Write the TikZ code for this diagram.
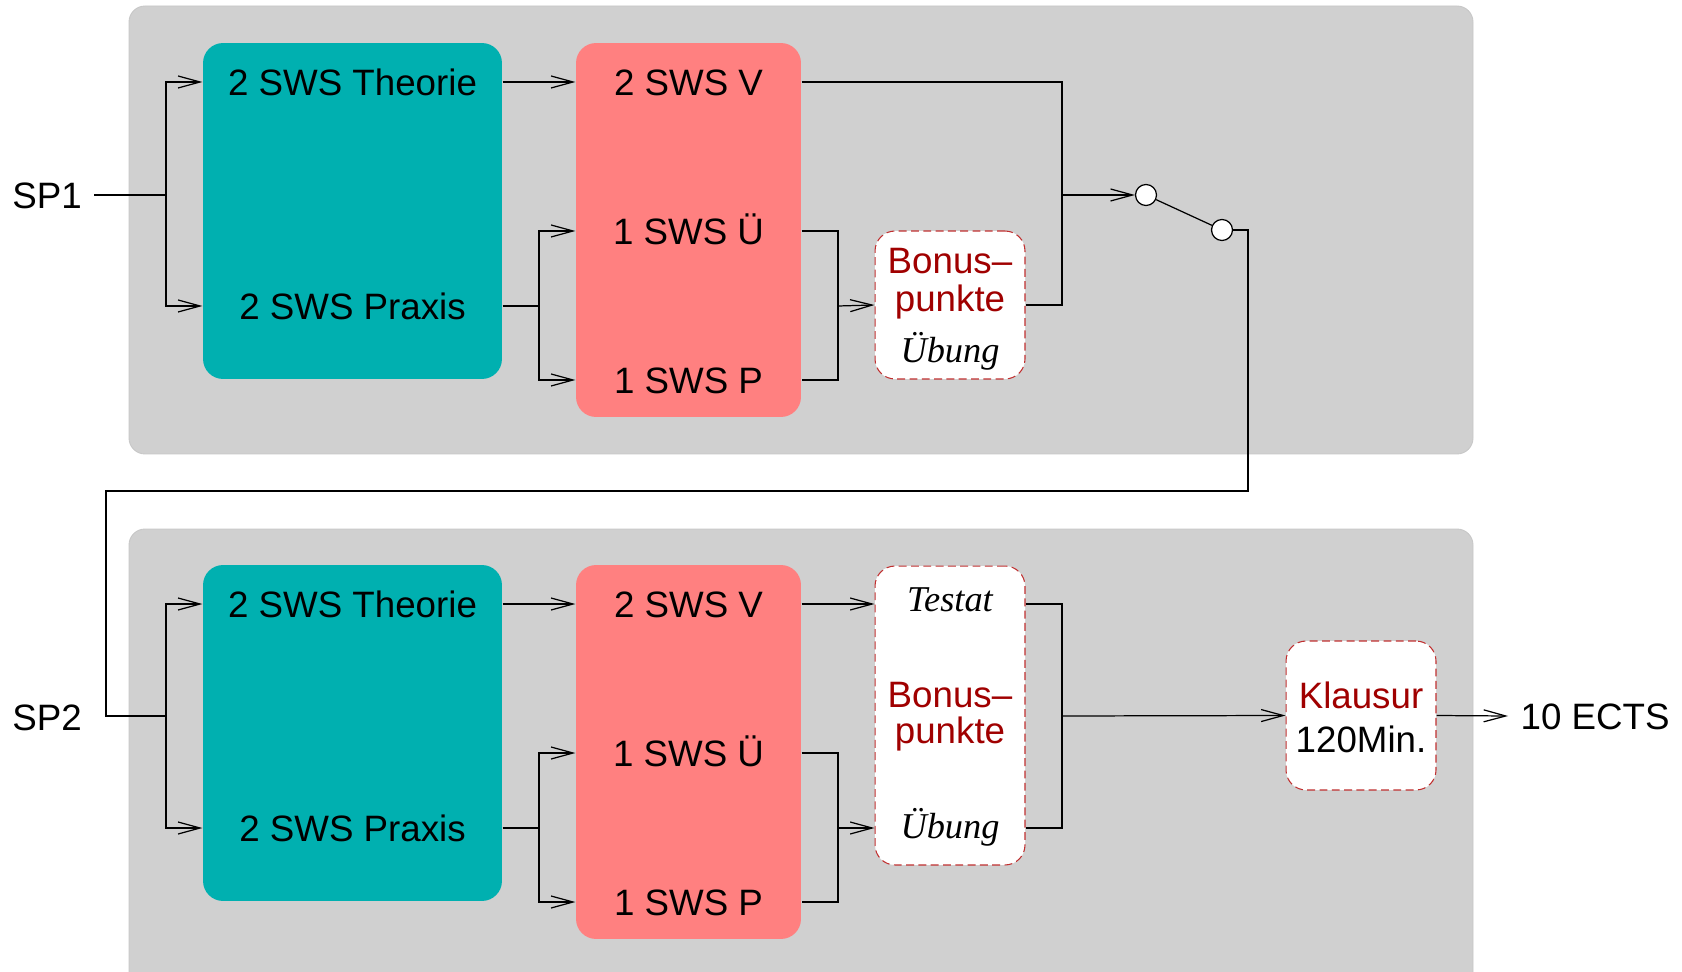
\documentclass[tikz,border=0pt]{standalone}
\usepackage{fontspec}
\setmainfont{Liberation Sans}
\newfontfamily\timesfont{Liberation Serif}
\usetikzlibrary{arrows.meta}

\definecolor{panelgray}{HTML}{D0D0D0}
\definecolor{tealbox}{HTML}{00B0B0}
\definecolor{pinkbox}{HTML}{FF8080}
\definecolor{darkred}{HTML}{A00000}
\definecolor{dashred}{HTML}{C03030}

\begin{document}
\begin{tikzpicture}[x=0.02cm, y=-0.02cm, line width=0.7pt, font=\fontsize{20.9}{25}\selectfont,
    panel/.style={fill=panelgray, draw=black!22, line width=0.5pt, rounded corners=0.32cm},
    block/.style={rounded corners=0.4cm, inner sep=0pt},
    lbl/.style={text height=15.2pt, text depth=0pt, inner sep=0pt},
    examb/.style={draw=dashred, fill=white, dash pattern=on 4.5pt off 2.5pt, line width=0.6pt,
        rounded corners=0.4cm, inner sep=0pt, minimum width=3cm},
    knob/.style={circle, draw, fill=white, minimum size=0.42cm, inner sep=0pt},
    arr/.style={-{Straight Barb[length=4.4mm, width=2.4mm]}},
    itlbl/.style={font=\timesfont\itshape\fontsize{20.7}{25}\selectfont, anchor=base},
    bon/.style={text=darkred, anchor=base}]
    \path[use as bounding box, clip] (0,0) rectangle (1682,972);

    % panels
    \draw[panel] (129,6) rectangle (1473,454);
    \draw[panel] (129,529) rectangle (1473,1000);

    % SP1
    \node[block, fill=tealbox, minimum width=5.98cm, minimum height=6.72cm] (teal1) at (352.5,211) {};
    \node[block, fill=pinkbox, minimum width=4.5cm, minimum height=7.48cm] (pink1) at (688.5,230) {};
    \node[lbl, minimum width=5.98cm] (theo1) at (352.5,82) {2 SWS Theorie};
    \node[lbl, minimum width=5.98cm] (prax1) at (352.5,306) {2 SWS Praxis};
    \node[lbl, minimum width=4.5cm] (v1) at (688.5,82) {2 SWS V};
    \node[lbl, minimum width=4.5cm] (ue1) at (688.5,231) {1 SWS Ü};
    \node[lbl, minimum width=4.5cm] (p1) at (688.5,380) {1 SWS P};
    \node[examb, minimum height=2.96cm] (bonus1) at (950,305) {};
    \node[bon] at (950,274) {Bonus–};
    \node[bon] at (950,312) {punkte};
    \node[itlbl] at (950,363) {Übung};
    \node[knob] (s1) at (1146,195) {};
    \node[knob] (s2) at (1222,230) {};
    \node[lbl, inner xsep=0.24cm] (sp1) at (47,195) {SP1};

    \coordinate (b1) at (166,195);
    \coordinate (b2) at (539,306);
    \coordinate (m1) at (838,306);
    \coordinate (j1) at (1062,195);
    \coordinate (r1) at (1248,491);
    \coordinate (r2) at (106,716);

    \draw (sp1.east) -- (b1);
    \draw[arr] (b1) |- (theo1.west);
    \draw[arr] (b1) |- (prax1.west);
    \draw[arr] (theo1.east) -- (v1.west);
    \draw (prax1.east) -- (b2);
    \draw[arr] (b2) |- (ue1.west);
    \draw[arr] (b2) |- (p1.west);
    \draw (ue1.east) -| (m1) |- (p1.east);
    \draw[arr] (m1) -- (bonus1.west);
    \draw (v1.east) -| (j1) |- (bonus1.east);
    \draw[arr] (j1) -- (s1.west);
    \draw (s1) -- (s2);

    % SP2
    \node[block, fill=tealbox, minimum width=5.98cm, minimum height=6.72cm] (teal2) at (352.5,733) {};
    \node[block, fill=pinkbox, minimum width=4.5cm, minimum height=7.48cm] (pink2) at (688.5,752) {};
    \node[lbl, minimum width=5.98cm] (theo2) at (352.5,604) {2 SWS Theorie};
    \node[lbl, minimum width=5.98cm] (prax2) at (352.5,828) {2 SWS Praxis};
    \node[lbl, minimum width=4.5cm] (v2) at (688.5,604) {2 SWS V};
    \node[lbl, minimum width=4.5cm] (ue2) at (688.5,753) {1 SWS Ü};
    \node[lbl, minimum width=4.5cm] (p2) at (688.5,902) {1 SWS P};
    \node[examb, minimum height=5.98cm] (box2) at (950,715.5) {};
    \node[itlbl] at (950,611) {Testat};
    \node[bon] at (950,707) {Bonus–};
    \node[bon] at (950,743) {punkte};
    \node[itlbl] at (950,838) {Übung};
    \node[examb, minimum height=2.98cm] (klaus) at (1361,715.5) {};
    \node[bon] at (1361,708) {Klausur};
    \node[anchor=base] at (1361,752) {120Min.};
    \node[lbl, anchor=west, inner xsep=0.24cm] (ects) at (1508,716) {10 ECTS};
    \node[lbl, inner xsep=0.24cm] (sp2) at (47,717) {SP2};

    \coordinate (b3) at (166,716);
    \coordinate (b4) at (539,828);
    \coordinate (m2) at (838,828);
    \coordinate (j2) at (1062,716);

    \draw (s2.east) -| (r1) -| (r2) -- (b3);
    \draw[arr] (b3) |- (theo2.west);
    \draw[arr] (b3) |- (prax2.west);
    \draw[arr] (theo2.east) -- (v2.west);
    \draw[arr] (v2.east) -- (v2.east -| box2.west);
    \draw (prax2.east) -- (b4);
    \draw[arr] (b4) |- (ue2.west);
    \draw[arr] (b4) |- (p2.west);
    \draw (ue2.east) -| (m2) |- (p2.east);
    \draw[arr] (m2) -- (m2 -| box2.west);
    \draw (box2.east |- v2) -| (j2) |- (box2.east |- m2);
    \draw[arr] (j2) -- (klaus.west);
    \draw[arr] (klaus.east) -- (ects.west);
\end{tikzpicture}
\end{document}
